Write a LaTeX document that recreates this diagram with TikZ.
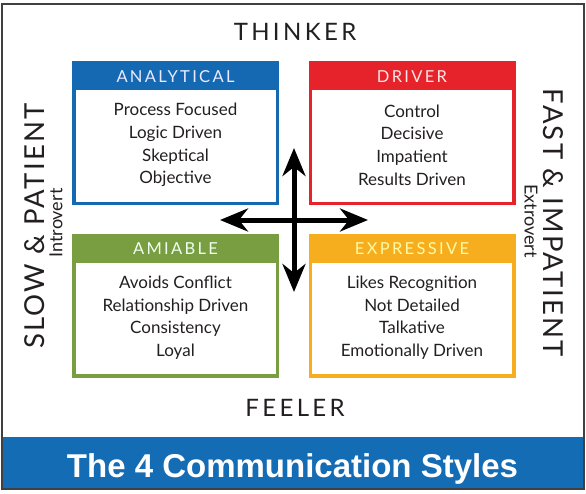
\documentclass[tikz,border=0pt]{standalone}
\usepackage{fontspec}
\setmainfont{Lato}
\newfontfamily\spacedfont[LetterSpace=14]{Lato}
\newfontfamily\widefont[LetterSpace=8]{Lato}
\newfontfamily\titlefont{Liberation Sans}
\usetikzlibrary{arrows.meta}
\definecolor{anablue}{RGB}{21,105,179}
\definecolor{drvred}{RGB}{230,35,42}
\definecolor{amigreen}{RGB}{121,158,66}
\definecolor{expgold}{RGB}{246,174,30}
\definecolor{bandblue}{RGB}{20,108,180}
\definecolor{inktext}{RGB}{35,31,32}
\begin{document}
\begin{tikzpicture}[x=1pt,y=-1pt,>={Stealth[length=28pt,width=23pt,inset=9pt]},
  stylebox/.style={draw=#1,line width=3.5pt,minimum width=203.5pt,minimum height=140.5pt,inner sep=0pt},
  header/.style={font=\spacedfont\fontsize{16.5}{18}\selectfont},
  traits/.style={align=center,text=inktext,font=\fontsize{17}{22.6}\selectfont},
  axis/.style={font=\spacedfont\fontsize{24}{26}\selectfont,text=inktext},
  side/.style={font=\widefont\fontsize{27.5}{30}\selectfont,text=inktext},
  sub/.style={font=\fontsize{18}{20}\selectfont,text=inktext}]
  \useasboundingbox (0,0) rectangle (586,493);

  % title band and frame
  \fill[bandblue] (3,437) rectangle (583,488);
  \draw[line width=1.5pt,black!75] (2,4) rectangle (584,489);
  \node[font=\titlefont\bfseries\fontsize{33}{35}\selectfont,text=white,anchor=base] (title) at (292.5,477) {The 4 Communication Styles};

  % the four boxes
  \node[stylebox=anablue] (ana) at (175.5,133) {};
  \node[stylebox=drvred] (drv) at (412,133) {};
  \node[stylebox=amigreen] (ami) at (175.5,305.5) {};
  \node[stylebox=expgold] (exp) at (412,305.5) {};

  % header bars
  \fill[anablue] (ana.north west) rectangle ([yshift=-29pt]ana.north east);
  \fill[drvred] (drv.north west) rectangle ([yshift=-29pt]drv.north east);
  \fill[amigreen] (ami.north west) rectangle ([yshift=-29pt]ami.north east);
  \fill[expgold] (exp.north west) rectangle ([yshift=-29pt]exp.north east);

  \node[header,text=blue!8!white] (anahead) at ([yshift=-15.5pt]ana.north) {ANALYTICAL};
  \node[header,text=red!10!white] (drvhead) at ([yshift=-15.5pt]drv.north) {DRIVER};
  \node[header,text=green!6!white] (amihead) at ([yshift=-15.5pt]ami.north) {AMIABLE};
  \node[header,text=yellow!35!white] (exphead) at ([yshift=-15.5pt]exp.north) {EXPRESSIVE};

  % traits
  \node[traits] (anatext) at ([yshift=-12pt]ana.center) {Process Focused\\Logic Driven\\Skeptical\\Objective};
  \node[traits] (drvtext) at ([yshift=-12pt]drv.center) {Control\\Decisive\\Impatient\\Results Driven};
  \node[traits] (amitext) at ([yshift=-12pt]ami.center) {Avoids Conflict\\Relationship Driven\\Consistency\\Loyal};
  \node[traits] (exptext) at ([yshift=-12pt]exp.center) {Likes Recognition\\Not Detailed\\Talkative\\Emotionally Driven};

  % cross of arrows
  \coordinate (up) at (294,148);
  \coordinate (down) at (294,292);
  \coordinate (west) at (220,220);
  \coordinate (east) at (368,220);
  \draw[<->,line width=5pt] (west) -- (east);
  \draw[<->,line width=5pt] (up) -- (down);

  % axis labels
  \node[axis] (thinker) at (295,32) {THINKER};
  \node[axis] (feeler) at (295,408) {FEELER};
  \node[side,rotate=90] (slow) at (35,226) {SLOW \& PATIENT};
  \node[sub,rotate=90] (intro) at (56,223) {Introvert};
  \node[side,rotate=-90] (fast) at (553.5,223) {FAST \& IMPATIENT};
  \node[sub,rotate=-90] (extro) at (531,221) {Extrovert};
\end{tikzpicture}
\end{document}
